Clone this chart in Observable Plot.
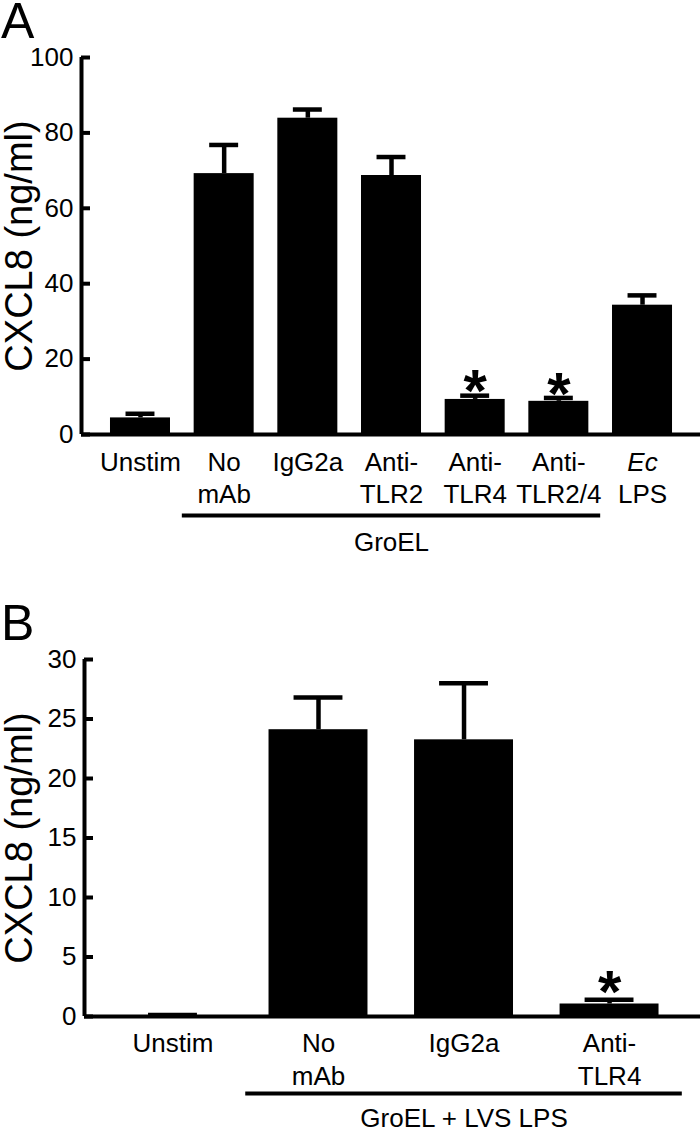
<!DOCTYPE html>
<html><head><meta charset="utf-8">
<script src="https://cdn.jsdelivr.net/npm/d3@7"></script>
<script src="https://cdn.jsdelivr.net/npm/@observablehq/plot@0.6"></script>
<style>
body{margin:0;background:#fff;}
.panel{position:relative;width:700px;}
.letter{position:absolute;left:1px;font:50px "Liberation Sans",Arial,sans-serif;line-height:36px;color:#000;}
</style></head><body>
<div id="a" class="panel"><div class="letter" style="top:3px">A</div></div>
<div id="b" class="panel"><div class="letter" style="top:40px">B</div></div>
<script>
// ---- Panel A data ----
const catsA  = ["Unstim", "No mAb", "IgG2a", "Anti-TLR2", "Anti-TLR4", "Anti-TLR2/4", "Ec LPS"];
const line1A = ["Unstim", "No", "IgG2a", "Anti-", "Anti-", "Anti-", "Ec"];
const line2A = ["", "mAb", "", "TLR2", "TLR4", "TLR2/4", "LPS"];
const meanA  = [4.4, 69.2, 83.9, 68.7, 9.3, 8.8, 34.3];
const errA   = [5.5, 76.8, 86.2, 73.6, 10.3, 9.7, 36.9];
const sigA   = [false, false, false, false, true, true, false];
const ticksA = [0, 20, 40, 60, 80, 100];
const groupA = {label: "GroEL", first: "No mAb", last: "Anti-TLR2/4"};

// ---- Panel B data ----
const catsB  = ["Unstim", "No mAb", "IgG2a", "Anti-TLR4"];
const line1B = ["Unstim", "No", "IgG2a", "Anti-"];
const line2B = ["", "mAb", "", "TLR4"];
const meanB  = [0.0, 24.1, 23.25, 1.05];
const errB   = [0.12, 26.8, 28.0, 1.4];
const sigB   = [false, false, false, true];
const ticksB = [0, 5, 10, 15, 20, 25, 30];
const groupB = {label: "GroEL + LVS LPS", first: "No mAb", last: "Anti-TLR4"};

const yTitle = "CXCL8 (ng/ml)";
const italicWords = ["Ec"];
const FONT = '"Liberation Sans", Arial, Helvetica, sans-serif';

function panel(o) {
  const data = o.cats.map((c, i) => ({c, i, l1: o.line1[i], l2: o.line2[i], mean: o.mean[i], err: o.err[i], sig: o.sig[i]}));
  const gi0 = o.cats.indexOf(o.group.first), gi1 = o.cats.indexOf(o.group.last);
  const yMax = o.ticks[o.ticks.length - 1];
  return Plot.plot({
    width: 700, height: o.height,
    marginTop: o.marginTop, marginBottom: o.marginBottom, marginLeft: o.marginLeft, marginRight: 0,
    x: {type: "linear", domain: o.xDomain, axis: null},
    y: {domain: [0, yMax]},
    style: {fontFamily: FONT, fontSize: "24px", background: "white", color: "black", overflow: "visible"},
    marks: [
      Plot.rect(data, {x1: d => d.i - o.barHalf, x2: d => d.i + o.barHalf, y1: 0, y2: "mean", fill: "black"}),
      Plot.ruleX(data, {x: "i", y1: "mean", y2: "err", strokeWidth: 4.5}),
      Plot.ruleY(data, {y: "err", x1: d => d.i - o.capHalf, x2: d => d.i + o.capHalf, strokeWidth: 4.5}),
      Plot.text(data.filter(d => d.sig), {x: "i", y: "err", text: () => "*", fontSize: 60, fontWeight: "bold", lineAnchor: "top", dy: o.starDy}),
      Plot.ruleY([0], {strokeWidth: 4}),
      Plot.ruleX([o.xDomain[0]], {y1: 0, y2: yMax, strokeWidth: 4}),
      Plot.axisY({ticks: o.ticks, tickSize: -9, tickPadding: 17, strokeWidth: 4, fontSize: 26, label: null}),
      Plot.text([yTitle], {frameAnchor: "left", textAnchor: "middle", rotate: -90, fontSize: 38, dx: 19 - o.marginLeft}),
      Plot.text(data.filter(d => !italicWords.includes(d.l1)), {x: "i", y: 0, text: "l1", fontSize: 26, lineAnchor: "top", dy: o.row1}),
      Plot.text(data.filter(d => italicWords.includes(d.l1)), {x: "i", y: 0, text: "l1", fontSize: 26, fontStyle: "italic", lineAnchor: "top", dy: o.row1}),
      Plot.text(data, {x: "i", y: 0, text: "l2", fontSize: 26, lineAnchor: "top", dy: o.row2}),
      Plot.ruleY([0], {x1: gi0 - 0.5, x2: gi1 + 0.5, dy: o.lineDy, strokeWidth: 4}),
      Plot.text([o.group.label], {x: (gi0 + gi1) / 2, y: 0, fontSize: 26, lineAnchor: "top", dy: o.groupDy})
    ]
  });
}

document.getElementById("a").append(panel({
  cats: catsA, line1: line1A, line2: line2A, mean: meanA, err: errA, sig: sigA, ticks: ticksA, group: groupA,
  height: 565, marginTop: 57, marginBottom: 131, marginLeft: 81,
  xDomain: [-0.705, 6.693], barHalf: 0.3586, capHalf: 0.173, starDy: -27,
  row1: 18, row2: 50, lineDy: 81, groupDy: 98
}));
document.getElementById("b").append(panel({
  cats: catsB, line1: line1B, line2: line2B, mean: meanB, err: errB, sig: sigB, ticks: ticksB, group: groupB,
  height: 564, marginTop: 94, marginBottom: 113, marginLeft: 84,
  xDomain: [-0.608, 3.625], barHalf: 0.34, capHalf: 0.168, starDy: -30,
  row1: 17, row2: 50, lineDy: 77, groupDy: 92
}));
</script>
</body></html>
